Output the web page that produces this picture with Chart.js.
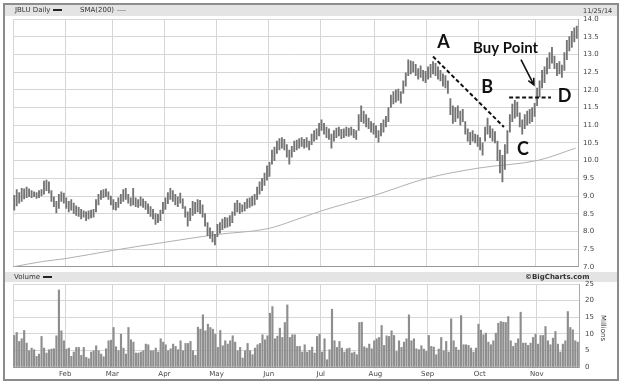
<!DOCTYPE html>
<html>
<head>
<meta charset="utf-8">
<script src="https://cdn.jsdelivr.net/npm/chart.js@4.4.1/dist/chart.umd.min.js"></script>
<style>
body{margin:0;background:#fff;font-family:"DejaVu Sans",sans-serif;}
#wrap{position:relative;width:624px;height:384px;overflow:hidden;background:#fff;}
canvas{position:absolute;left:0;}
.frame{position:absolute;left:3px;top:3px;width:612px;height:374px;border:2px solid #8c8c8c;}
.band{position:absolute;left:5px;width:612px;background:#e4e4e4;}
.t{position:absolute;font-size:7px;color:#333;white-space:nowrap;line-height:8px;}
.sw{display:inline-block;width:9px;height:2px;background:#222;vertical-align:middle;margin-left:3px;}
</style>
</head>
<body>
<div id="wrap">
  <div class="band" style="top:5px;height:11px"></div>
  <div class="band" style="top:272px;height:10px"></div>
  <canvas id="volChart" width="624" height="112" style="top:272px"></canvas>
  <canvas id="priceChart" width="624" height="276" style="top:0"></canvas>
  <div class="t" style="left:15px;top:6px">JBLU Daily<span class="sw"></span></div>
  <div class="t" style="left:80px;top:6px">SMA(200)<span class="sw" style="background:#aaa;height:1px"></span></div>
  <div class="t" style="left:583px;top:7px;font-size:6.5px">11/25/14</div>
  <div class="t" style="left:14px;top:273px">Volume<span class="sw"></span></div>
  <div class="t" style="left:525px;top:273px;font-weight:bold">&copy;BigCharts.com</div>
  <div class="t" style="left:590px;top:324px;transform:rotate(90deg)">Millions</div>
  <div class="frame"></div>
</div>
<script>
// month grid lines (trading-day index of first bar of each month)
var months = ['Feb','Mar','Apr','May','Jun','Jul','Aug','Sep','Oct','Nov'];
var monthStart = [21,40,61,82,103,124,146,167,188,211];
var nBars = 228;

// daily lows / highs, Jan 2 .. Nov 25 2014
var priceLow = [
  8.60,8.72,8.80,8.85,8.92,8.95,8.98,8.95,8.98,8.93,8.95,9.00,9.05,9.15,9.08,8.85,8.70,8.52,8.65,8.85,8.80,
  8.65,8.55,8.60,8.50,8.45,8.42,8.35,8.40,8.30,8.35,8.38,8.40,8.55,8.75,8.90,8.95,8.98,8.90,8.75,
  8.62,8.60,8.68,8.78,8.85,8.90,8.80,8.72,8.75,8.70,8.68,8.72,8.68,8.62,8.50,8.42,8.35,8.20,8.25,8.30,8.50,
  8.62,8.78,8.90,8.85,8.75,8.70,8.80,8.65,8.40,8.15,8.30,8.45,8.50,8.55,8.50,8.40,8.15,7.88,7.80,7.70,7.62,
  7.85,7.95,8.05,8.10,8.12,8.15,8.25,8.45,8.55,8.50,8.55,8.58,8.65,8.68,8.72,8.75,8.90,9.05,9.15,9.30,9.45,
  9.55,9.90,10.00,10.20,10.30,10.35,10.30,10.10,9.90,10.10,10.25,10.30,10.35,10.40,10.35,10.38,10.30,10.45,10.55,10.60,10.70,
  10.85,10.75,10.65,10.60,10.35,10.55,10.65,10.70,10.62,10.65,10.70,10.68,10.72,10.65,10.60,10.85,11.10,11.05,10.95,10.90,10.80,10.75,
  10.65,10.52,10.70,10.80,10.95,11.10,11.50,11.60,11.65,11.70,11.62,11.90,12.10,12.40,12.45,12.50,12.40,12.30,12.35,12.25,12.20,
  12.30,12.35,12.45,12.40,12.30,12.25,12.10,12.05,11.90,11.30,11.05,11.10,11.20,11.00,11.10,10.75,10.55,10.45,10.55,10.50,10.40,
  10.30,10.15,10.55,10.75,10.65,10.55,10.50,10.00,9.65,9.40,9.75,10.20,10.80,11.10,11.20,11.25,10.95,10.75,10.90,11.00,11.05,11.10,11.25,
  11.55,11.80,12.05,12.20,12.45,12.60,12.75,12.60,12.40,12.45,12.35,12.55,12.85,13.10,13.20,13.35,13.45
];
var priceHigh = [
  9.02,9.18,9.10,9.22,9.20,9.25,9.20,9.15,9.12,9.10,9.15,9.18,9.42,9.45,9.40,9.15,8.98,8.85,9.05,9.12,9.08,
  8.95,8.85,8.90,8.80,8.72,8.68,8.62,8.58,8.55,8.58,8.60,8.62,8.90,9.05,9.15,9.18,9.20,9.12,9.00,
  8.90,8.82,8.95,9.05,9.18,9.22,9.05,8.95,9.22,8.95,8.90,8.98,8.92,8.85,8.78,8.70,8.62,8.50,8.48,8.60,8.82,
  8.95,9.10,9.22,9.15,9.05,8.98,9.08,8.92,8.70,8.55,8.65,8.85,8.82,8.90,8.88,8.75,8.50,8.25,8.10,8.00,7.92,
  8.20,8.25,8.35,8.40,8.38,8.45,8.55,8.80,8.88,8.80,8.75,8.82,8.92,8.95,9.00,9.05,9.25,9.40,9.50,9.65,9.85,
  9.95,10.30,10.38,10.55,10.62,10.65,10.60,10.45,10.30,10.40,10.55,10.58,10.62,10.65,10.60,10.65,10.55,10.75,10.85,10.90,11.05,
  11.15,11.05,10.95,10.90,10.75,10.85,10.92,10.95,10.88,10.90,10.95,10.92,10.95,10.88,10.85,11.30,11.55,11.40,11.30,11.20,11.10,11.05,
  10.98,10.85,11.05,11.15,11.25,11.50,11.85,11.95,12.00,12.02,11.95,12.25,12.48,12.85,12.82,12.80,12.72,12.60,12.68,12.55,12.52,
  12.65,12.72,12.80,12.75,12.65,12.55,12.45,12.40,12.25,11.75,11.55,11.50,11.55,11.40,11.45,11.10,10.90,10.80,10.85,10.75,10.72,
  10.65,10.50,10.95,11.20,10.98,10.90,10.82,10.55,10.30,10.15,10.45,10.85,11.30,11.60,11.70,11.65,11.35,11.15,11.30,11.40,11.45,11.50,11.62,
  12.05,12.25,12.55,12.65,12.90,13.05,13.20,12.95,12.75,12.80,12.70,13.05,13.40,13.50,13.65,13.75,13.80
];

// 200-day SMA read at a few dates (bar index -> price)
var smaIdx = [0, 12, 21, 40, 61, 82, 103, 113, 124, 146, 167, 188, 212, 227];
var smaVal = [7.0, 7.15, 7.23, 7.46, 7.69, 7.91, 8.08, 8.30, 8.57, 9.02, 9.50, 9.79, 10.01, 10.35];

// volume in millions
var volume = [
  9.5,10.4,7.7,8.5,11.0,7.2,4.9,5.7,5.2,3.2,3.9,9.2,5.7,4.2,5.2,5.4,5.5,9.4,23.2,10.9,
  7.9,5.4,5.7,3.2,4.5,5.9,5.9,3.5,5.9,2.9,2.5,4.5,4.9,6.4,4.9,3.9,3.1,5.5,7.9,8.1,
  11.9,6.1,4.9,9.9,5.7,3.9,11.9,8.2,7.5,4.2,4.2,4.5,4.9,6.9,6.7,4.9,4.9,5.7,4.5,8.5,
  7.5,6.7,4.9,5.5,6.9,6.2,5.2,7.9,4.9,7.1,7.1,7.7,4.9,3.5,12.0,11.4,15.7,10.9,12.9,11.9,
  11.4,9.9,5.9,11.0,6.4,7.9,6.9,7.9,9.4,7.5,4.9,5.9,2.7,4.9,7.1,4.9,3.7,5.7,6.7,7.1,
  9.7,8.2,9.4,16.2,18.2,8.5,9.3,11.7,8.9,13.4,18.7,8.9,9.7,9.7,6.2,6.2,4.5,6.7,4.5,5.0,
  6.0,4.2,9.2,9.9,4.5,8.5,2.2,5.2,17.4,7.9,5.9,7.7,5.7,4.5,5.5,5.7,4.2,4.5,3.7,13.4,
  13.5,6.1,5.7,6.9,5.5,7.9,8.5,8.9,12.5,6.5,9.4,9.2,10.9,9.5,4.7,7.9,5.9,7.5,8.5,15.7,
  7.9,8.5,5.5,5.2,6.4,5.4,4.7,9.5,6.2,6.0,3.7,5.4,8.9,4.9,7.7,4.5,14.5,7.9,5.9,5.1,
  15.5,6.7,6.7,6.5,5.7,4.5,5.7,12.9,11.1,9.7,10.2,7.5,6.7,7.9,10.2,13.2,13.7,13.5,13.4,15.2,
  7.9,6.2,7.2,8.5,16.5,7.2,7.2,6.5,7.2,8.9,9.9,6.9,9.5,9.5,12.2,7.9,6.7,8.7,10.7,6.9,
  4.5,6.9,7.9,16.7,11.9,11.2,7.9,7.5
];

// chart annotations (bar index, price)
var notes = [
  {text: 'A', x: 173.7, y: 13.19, size: 18},
  {text: 'B', x: 191.3, y: 11.91, size: 18},
  {text: 'C', x: 205.8, y: 10.16, size: 18},
  {text: 'D', x: 222.6, y: 11.66, size: 18},
  {text: 'Buy Point', x: 198.8, y: 13.05, size: 15}
];
var trendLine = [{x: 169.5, y: 12.94}, {x: 198.1, y: 10.95}];
var pivotLine = [{x: 200.2, y: 11.78}, {x: 217.1, y: 11.78}];
var arrow = {x1: 205, y1: 12.85, x2: 210.2, y2: 12.14};

var gridCol = '#d6d6d6';
var monthLabel = {};
months.forEach(function(m, i){ monthLabel[monthStart[i]] = m; });

function monthTicks(scale){
  scale.ticks = [0].concat(monthStart, [nBars]).map(function(v){ return {value: v}; });
}

var priceBars = priceLow.map(function(lo, i){ return {x: i + 0.5, y: [lo, priceHigh[i]]}; });
var smaData = smaIdx.map(function(x, i){ return {x: x, y: smaVal[i]}; });

var notesPlugin = {
  id: 'notes',
  afterDatasetsDraw: function(chart){
    var ctx = chart.ctx, xs = chart.scales.x, ys = chart.scales.y;
    ctx.save();
    ctx.fillStyle = '#111';
    ctx.textAlign = 'center';
    ctx.textBaseline = 'alphabetic';
    notes.forEach(function(n){
      ctx.font = 'bold ' + n.size + 'px Lato';
      ctx.fillText(n.text, xs.getPixelForValue(n.x), ys.getPixelForValue(n.y));
    });
    // arrow to buy point
    var x1 = xs.getPixelForValue(arrow.x1), y1 = ys.getPixelForValue(arrow.y1);
    var x2 = xs.getPixelForValue(arrow.x2), y2 = ys.getPixelForValue(arrow.y2);
    var a = Math.atan2(y2 - y1, x2 - x1);
    ctx.strokeStyle = '#111';
    ctx.lineWidth = 1.6;
    ctx.beginPath();
    ctx.moveTo(x1, y1); ctx.lineTo(x2, y2);
    ctx.moveTo(x2 - 7 * Math.cos(a - 0.45), y2 - 7 * Math.sin(a - 0.45));
    ctx.lineTo(x2, y2);
    ctx.lineTo(x2 - 7 * Math.cos(a + 0.45), y2 - 7 * Math.sin(a + 0.45));
    ctx.stroke();
    ctx.restore();
  }
};

var tickFont = {family: 'DejaVu Sans', size: 7};

new Chart(document.getElementById('priceChart'), {
  type: 'bar',
  data: {
    datasets: [
      {type: 'line', data: smaData, borderColor: '#b0b0b0', borderWidth: 1, pointRadius: 0, cubicInterpolationMode: 'monotone', order: 2},
      {type: 'bar', data: priceBars, backgroundColor: '#747474', barThickness: 1.2, order: 1},
      {type: 'line', data: trendLine, borderColor: '#111', borderWidth: 2, borderDash: [4, 2.5], pointRadius: 0, order: 0},
      {type: 'line', data: pivotLine, borderColor: '#111', borderWidth: 2, borderDash: [4, 2.5], pointRadius: 0, order: 0}
    ]
  },
  options: {
    responsive: false,
    animation: false,
    layout: {padding: {left: 13, right: 6, top: 19, bottom: 1.5}},
    plugins: {legend: {display: false}, tooltip: {enabled: false}},
    scales: {
      x: {
        type: 'linear', min: 0, max: nBars, offset: false,
        afterBuildTicks: monthTicks,
        afterFit: function(s){ s.height = 0; },
        ticks: {display: false},
        grid: {color: gridCol, drawTicks: false, offset: false},
        border: {color: '#999'}
      },
      y: {
        position: 'right', min: 7, max: 14,
        afterFit: function(s){ s.width = 40; },
        ticks: {stepSize: 0.5, font: tickFont, color: '#444', padding: 5,
          callback: function(v){ return v.toFixed(1); }},
        grid: {color: gridCol, drawTicks: false},
        border: {color: '#aaa'}
      }
    }
  },
  plugins: [notesPlugin]
});

var volBars = volume.map(function(v, i){ return {x: i + 0.5, y: v}; });

new Chart(document.getElementById('volChart'), {
  type: 'bar',
  data: {
    datasets: [
      {data: volBars, backgroundColor: '#8e8e8e', barThickness: 1.5}
    ]
  },
  options: {
    responsive: false,
    animation: false,
    layout: {padding: {left: 13, right: 5, top: 12, bottom: 3}},
    plugins: {legend: {display: false}, tooltip: {enabled: false}},
    scales: {
      x: {
        type: 'linear', min: 0, max: nBars, offset: false,
        afterBuildTicks: monthTicks,
        afterFit: function(s){ s.height = 14; },
        ticks: {autoSkip: false, maxRotation: 0, font: tickFont, color: '#444', padding: 3,
          callback: function(v){ return monthLabel[v] || ''; }},
        grid: {color: gridCol, drawTicks: false, offset: false},
        border: {color: '#999'}
      },
      y: {
        position: 'right', min: 0, max: 25,
        afterFit: function(s){ s.width = 40; },
        ticks: {stepSize: 5, font: tickFont, color: '#444', padding: 6},
        grid: {color: gridCol, drawTicks: false},
        border: {color: '#aaa'}
      }
    }
  }
});
</script>
</body>
</html>
